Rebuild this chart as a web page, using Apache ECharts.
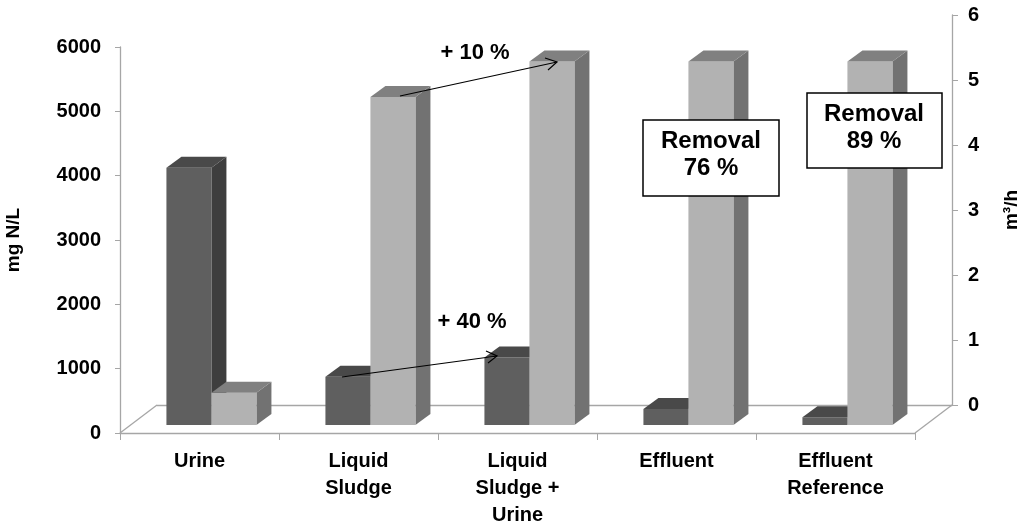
<!DOCTYPE html>
<html><head><meta charset="utf-8">
<script src="https://cdn.jsdelivr.net/npm/echarts@6/dist/echarts.min.js"></script>
<style>html,body{margin:0;padding:0;background:#fff}#c{width:1024px;height:527px}</style>
</head><body><div id="c"></div>
<script>
const categories = ['Urine', 'Liquid\nSludge', 'Liquid\nSludge +\nUrine', 'Effluent', 'Effluent\nReference'];
const nitrogenMgNL = [4000, 750, 1050, 250, 120];
const flowM3h = [0.5, 5.1, 5.65, 5.65, 5.65];
const leftTicks = [0, 1000, 2000, 3000, 4000, 5000, 6000];
const rightTicks = [0, 1, 2, 3, 4, 5, 6];

const FONT = '"Liberation Sans", Arial, sans-serif';
const GRAY = '#a6a6a6';

function barRenderer(isLeft, cFront, cTop, cSide) {
  return function (params, api) {
    const cat = api.value(0), v = api.value(1);
    const top = api.coord([cat, v]);
    const bot = api.coord([cat, 0]);
    const band = api.size([1, 0])[0];
    const w = band * 0.283;
    const ox = band * 0.075, oy = -8;
    const cx = top[0] + ox;
    const x0 = isLeft ? cx - w : cx;
    const x1 = x0 + w;
    const yt = top[1] + oy, yb = bot[1] + oy;
    const dx = 15, dy = -11;
    return {
      type: 'group',
      children: [
        { type: 'polygon', shape: { points: [[x1, yt], [x1 + dx, yt + dy], [x1 + dx, yb + dy], [x1, yb]] }, style: { fill: cSide } },
        { type: 'rect', shape: { x: x0, y: yt, width: w, height: yb - yt }, style: { fill: cFront } },
        { type: 'polygon', shape: { points: [[x0, yt], [x1, yt], [x1 + dx, yt + dy], [x0 + dx, yt + dy]] }, style: { fill: cTop } }
      ]
    };
  };
}

const chart = echarts.init(document.getElementById('c'));
const labelStyle = { color: '#000', fontFamily: FONT, fontWeight: 'bold', fontSize: 20 };
const nameStyle = { color: '#000', fontFamily: FONT, fontWeight: 'bold', fontSize: 19 };

chart.setOption({
  animation: false,
  backgroundColor: '#fff',
  grid: [
    { left: 120, right: 109, top: 47, bottom: 94, containLabel: false, outerBoundsMode: 'none' },
    { left: 157, right: 72, top: 15, bottom: 122, containLabel: false, outerBoundsMode: 'none' }
  ],
  xAxis: [
    {
      type: 'category', gridIndex: 0, data: categories,
      axisLine: { lineStyle: { color: GRAY, width: 1.3 } },
      axisTick: { show: true, length: 7, lineStyle: { color: GRAY } },
      axisLabel: { color: '#000', fontFamily: FONT, fontWeight: 'bold', fontSize: 20, lineHeight: 27, margin: 15, interval: 0 }
    },
    {
      type: 'category', gridIndex: 1, data: categories,
      axisLine: { lineStyle: { color: GRAY, width: 1.3 } },
      axisTick: { show: false }, axisLabel: { show: false }
    }
  ],
  yAxis: [
    {
      type: 'value', gridIndex: 0, min: 0, max: 6000, interval: 1000,
      name: 'mg N/L', nameLocation: 'middle', nameGap: 97, nameRotate: 90,
      nameTextStyle: nameStyle,
      axisLine: { show: true, lineStyle: { color: GRAY, width: 1.3 } },
      axisTick: { show: true, length: 5, lineStyle: { color: GRAY } },
      axisLabel: Object.assign({ margin: 19, formatter: v => leftTicks.includes(v) ? String(v) : '' }, labelStyle),
      splitLine: { show: false }
    },
    {
      type: 'value', gridIndex: 0, min: 0, max: 6, interval: 1, show: false
    },
    {
      type: 'value', gridIndex: 1, position: 'right', min: 0, max: 6, interval: 1,
      name: 'm³/h', nameLocation: 'middle', nameGap: 50, nameRotate: 90,
      nameTextStyle: nameStyle,
      axisLine: { show: true, lineStyle: { color: GRAY, width: 1.3 } },
      axisTick: { show: true, length: 6, lineStyle: { color: GRAY } },
      axisLabel: Object.assign({ margin: 16, formatter: v => rightTicks.includes(v) ? String(v) : '' }, labelStyle),
      splitLine: { show: false }
    }
  ],
  series: [
    {
      type: 'custom', name: 'mg N/L', xAxisIndex: 0, yAxisIndex: 0, z: 3,
      renderItem: barRenderer(true, '#5f5f5f', '#494949', '#3e3e3e'),
      data: nitrogenMgNL.map((v, i) => [i, v])
    },
    {
      type: 'custom', name: 'm³/h', xAxisIndex: 0, yAxisIndex: 1, z: 4,
      renderItem: barRenderer(false, '#b2b2b2', '#808080', '#727272'),
      data: flowM3h.map((v, i) => [i, v])
    }
  ],
  graphic: [
    { type: 'line', z: 1, shape: { x1: 120, y1: 433, x2: 157, y2: 405 }, style: { stroke: GRAY, lineWidth: 1.3 } },
    { type: 'line', z: 1, shape: { x1: 915, y1: 433, x2: 952, y2: 405 }, style: { stroke: GRAY, lineWidth: 1.3 } },
    // arrows
    { type: 'line', z: 20, shape: { x1: 400, y1: 96, x2: 557, y2: 62 }, style: { stroke: '#000', lineWidth: 1.2 } },
    { type: 'polyline', z: 20, shape: { points: [[545, 58], [557, 62], [548, 70]] }, style: { stroke: '#000', lineWidth: 1.2, fill: null } },
    { type: 'line', z: 20, shape: { x1: 342, y1: 377, x2: 497, y2: 356 }, style: { stroke: '#000', lineWidth: 1.2 } },
    { type: 'polyline', z: 20, shape: { points: [[486, 351], [497, 356], [488, 363]] }, style: { stroke: '#000', lineWidth: 1.2, fill: null } },
    { type: 'text', z: 20, style: { text: '+ 10 %', x: 475, y: 53, align: 'center', verticalAlign: 'middle', font: 'bold 22px ' + FONT, fill: '#000' } },
    { type: 'text', z: 20, style: { text: '+ 40 %', x: 472, y: 322, align: 'center', verticalAlign: 'middle', font: 'bold 22px ' + FONT, fill: '#000' } },
    // removal boxes
    { type: 'rect', z: 20, shape: { x: 643, y: 120, width: 136, height: 76 }, style: { fill: '#fff', stroke: '#000', lineWidth: 1.5 } },
    { type: 'text', z: 21, style: { text: 'Removal\n76 %', x: 711, y: 155, align: 'center', verticalAlign: 'middle', font: 'bold 24px ' + FONT, lineHeight: 27, fill: '#000' } },
    { type: 'rect', z: 20, shape: { x: 807, y: 93, width: 135, height: 75 }, style: { fill: '#fff', stroke: '#000', lineWidth: 1.5 } },
    { type: 'text', z: 21, style: { text: 'Removal\n89 %', x: 874, y: 128, align: 'center', verticalAlign: 'middle', font: 'bold 24px ' + FONT, lineHeight: 27, fill: '#000' } }
  ]
});
</script></body></html>
